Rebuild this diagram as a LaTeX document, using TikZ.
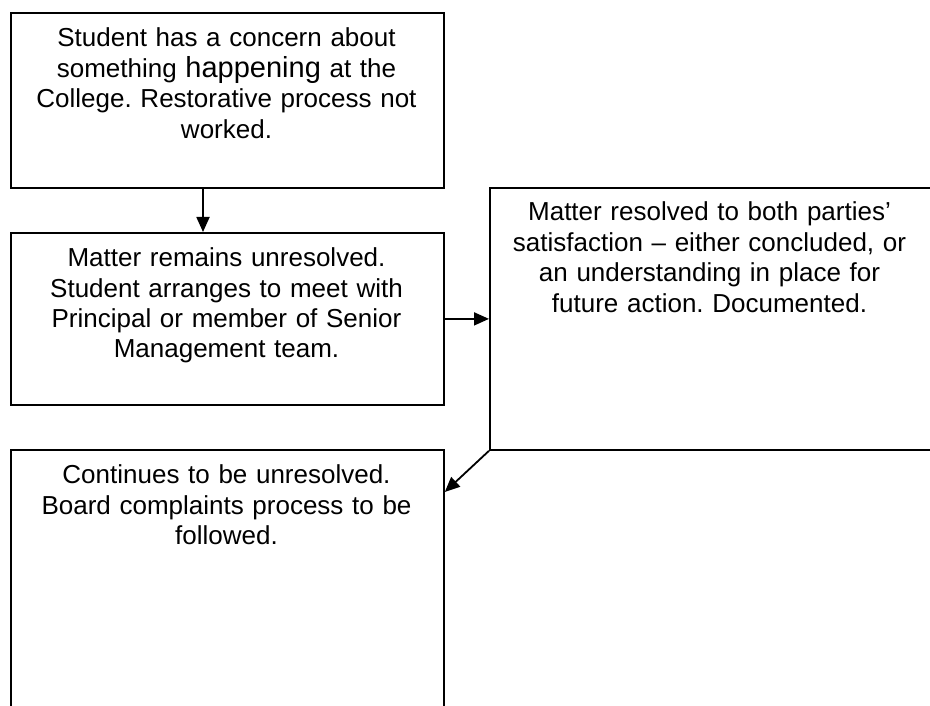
\documentclass[tikz,border=0pt]{standalone}
\usepackage{fontspec}
\setmainfont{Liberation Sans}
\usetikzlibrary{arrows.meta}
\frenchspacing
\begin{document}
\begin{tikzpicture}[x=1pt,y=-1pt,
  boxframe/.style={draw=black,line width=1.8pt,rectangle,inner sep=0pt,anchor=north west},
  boxtext/.style={text width=425pt,align=center,anchor=base,inner sep=0pt,
    font=\fontsize{26}{30.5}\selectfont\frenchspacing,text=black},
  arr/.style={draw=black,line width=1.8pt,-{Triangle[length=15pt,width=13pt]}}]
\useasboundingbox (0,0) rectangle (930,706);
\clip (0,0) rectangle (930,706);
\fill[white] (0,0) rectangle (930,706);
% boxes
\node[boxframe,minimum width=433pt,minimum height=175pt] (box1) at (10,12) {};
\node[boxframe,minimum width=433pt,minimum height=172pt] (box2) at (10,232) {};
\node[boxframe,minimum width=460pt,minimum height=262pt] (box3) at (489,187) {};
\node[boxframe,minimum width=433pt,minimum height=290pt] (box4) at (10,449) {};
% texts
\node[boxtext] (t1) at (226.5,47) {Student has a concern about\\something {\fontsize{29}{30.5}\selectfont happening} at the\\College. Restorative process not\\worked.};
\node[boxtext] (t2) at (226.5,266.5) {Matter remains unresolved.\\Student arranges to meet with\\Principal or member of Senior\\Management team.};
\node[boxtext,text width=440pt] (t3) at (709.5,221) {Matter resolved to both parties'\\satisfaction -- either concluded, or\\an understanding in place for\\future action. Documented.};
\node[boxtext] (t4) at (226.5,483.5) {Continues to be unresolved.\\Board complaints process to be\\followed.};
% connectors
\coordinate (a1) at (203,0);
\coordinate (a3) at (0,492);
\draw[arr] (box1.south -| a1) -- (box2.north -| a1);
\draw[arr] (box2.east) -- (box2.east -| box3.west);
\draw[arr] (box3.south west) -- (box4.east |- a3);
\end{tikzpicture}
\end{document}
